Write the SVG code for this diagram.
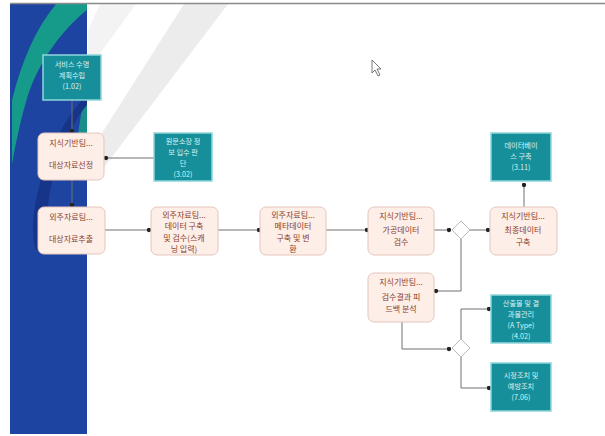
<svg xmlns="http://www.w3.org/2000/svg" width="605" height="436" viewBox="0 0 605 436">
<defs>
<style>
.n rect{fill:#fdeee8;stroke:#e3c6bd;stroke-width:1}
.t rect{fill:#178f9b;stroke:#8fd6dc;stroke-width:1.5}
.n text{font-family:"Noto Sans CJK KR","Noto Sans",sans-serif;font-size:8px;fill:#8a3e2c;text-anchor:middle}
.t text{font-family:"Noto Sans CJK KR","Noto Sans",sans-serif;font-size:7.2px;fill:#d8f2f4;text-anchor:middle}
.c path{fill:none;stroke:#707070;stroke-width:1}
.d polygon{fill:#ffffff;stroke:#b8b8b8;stroke-width:1}
</style>
<marker id="dot" viewBox="0 0 6 6" refX="3" refY="3" markerWidth="5" markerHeight="5" markerUnits="userSpaceOnUse"><circle cx="3" cy="3" r="2.6" fill="#222"/></marker>
</defs>
<rect x="0" y="0" width="605" height="436" fill="#ffffff"/>
<g id="background">
<polygon points="184,4 228,4 102,170 88,170 88,155" fill="#ececec"/>
<polygon points="100,4 136,4 88,70 88,30" fill="#f3f3f3"/>
<rect x="10" y="4" width="77" height="430" fill="#1d44a0"/>
<path d="M56,4 L87,4 L87,10 C62,30 40,60 28,95 C22,115 16,140 12,165 L12,100 C22,60 36,28 56,4 Z" fill="#169a8a"/>
<path d="M87,88 L87,135 L78,135 C80,118 83,102 87,88 Z" fill="#1a8f8a"/>
<path d="M87,95 C62,120 44,160 36,200 C32,222 32,238 36,250 L48,250 C44,225 48,185 62,150 C70,130 78,115 87,105 Z" fill="#163488"/>
<line x1="10" y1="3.5" x2="605" y2="3.5" stroke="#8a8a8a" stroke-width="1.5"/>
</g>
<g id="connectors" class="c">
<path d="M72,100 V131" marker-end="url(#dot)"/>
<path d="M154,158 H106" marker-end="url(#dot)"/>
<path d="M72,180 V205" marker-end="url(#dot)"/>
<path d="M105,230 H149" marker-end="url(#dot)"/>
<path d="M218,230 H259" marker-end="url(#dot)"/>
<path d="M326,230 H367" marker-end="url(#dot)"/>
<path d="M434,230 H449" marker-end="url(#dot)"/>
<path d="M470,230 H488" marker-end="url(#dot)"/>
<path d="M461,239 V291 H436" marker-end="url(#dot)"/>
<path d="M524,207 V185" marker-end="url(#dot)"/>
<path d="M402,322 V349 H449" marker-end="url(#dot)"/>
<path d="M461,339 V309 H489" marker-end="url(#dot)"/>
<path d="M461,357 V388 H489" marker-end="url(#dot)"/>
</g>
<g id="tA" class="t"><rect x="43" y="55" width="58" height="45"/><text x="72" y="67">서비스 수명</text><text x="72" y="78">계획수립</text><text x="72" y="89">(1.02)</text></g>
<g id="tB" class="t"><rect x="154" y="133" width="58" height="48"/><text x="183" y="144">원문소장 정</text><text x="183" y="155">보 입수 판</text><text x="183" y="166">단</text><text x="183" y="177">(3.02)</text></g>
<g id="tC" class="t"><rect x="491" y="133" width="60" height="48"/><text x="521" y="148">데이터베이</text><text x="521" y="159">스 구축</text><text x="521" y="170">(3.11)</text></g>
<g id="tD" class="t"><rect x="491" y="295" width="60" height="48"/><text x="521" y="306">산출물 및 결</text><text x="521" y="317">과물관리</text><text x="521" y="328">(A Type)</text><text x="521" y="339">(4.02)</text></g>
<g id="tE" class="t"><rect x="491" y="363" width="60" height="48"/><text x="521" y="378">시정조치 및</text><text x="521" y="389">예방조치</text><text x="521" y="400">(7.06)</text></g>
<g id="n1" class="n"><rect x="38" y="133" width="66" height="47" rx="6"/><text x="71" y="146">지식기반팀...</text><text x="71" y="168">대상자료선정</text></g>
<g id="n2" class="n"><rect x="38" y="207" width="67" height="47" rx="6"/><text x="71" y="220">외주자료팀...</text><text x="71" y="242">대상자료추출</text></g>
<g id="n3" class="n"><rect x="151" y="207" width="67" height="48" rx="6"/><text x="184" y="217.5">외주자료팀...</text><text x="184" y="229">데이터 구축</text><text x="184" y="240.5">및 검수(스캐</text><text x="184" y="252">닝 입력)</text></g>
<g id="n4" class="n"><rect x="260" y="207" width="66" height="48" rx="6"/><text x="293" y="217.5">외주자료팀...</text><text x="293" y="229">메타데이터</text><text x="293" y="240.5">구축 및 변</text><text x="293" y="252">환</text></g>
<g id="n5" class="n"><rect x="368" y="207" width="66" height="48" rx="6"/><text x="401" y="219">지식기반팀...</text><text x="401" y="233">가공데이터</text><text x="401" y="245">검수</text></g>
<g id="n6" class="n"><rect x="490" y="207" width="67" height="48" rx="6"/><text x="523" y="219">지식기반팀...</text><text x="523" y="233">최종데이터</text><text x="523" y="245">구축</text></g>
<g id="n7" class="n"><rect x="368" y="273" width="66" height="49" rx="6"/><text x="401" y="285">지식기반팀...</text><text x="401" y="300">검수결과 피</text><text x="401" y="312">드백 분석</text></g>
<g id="d1" class="d"><polygon points="461,221 470,230 461,239 452,230"/></g>
<g id="d2" class="d"><polygon points="461,339 470,348 461,357 452,348"/></g>
<g id="cursor"><polygon points="372,60 372,73 375,70 378,76 380,75 377,69 381,69" fill="#ffffff" stroke="#555" stroke-width="0.8"/></g>
</svg>
